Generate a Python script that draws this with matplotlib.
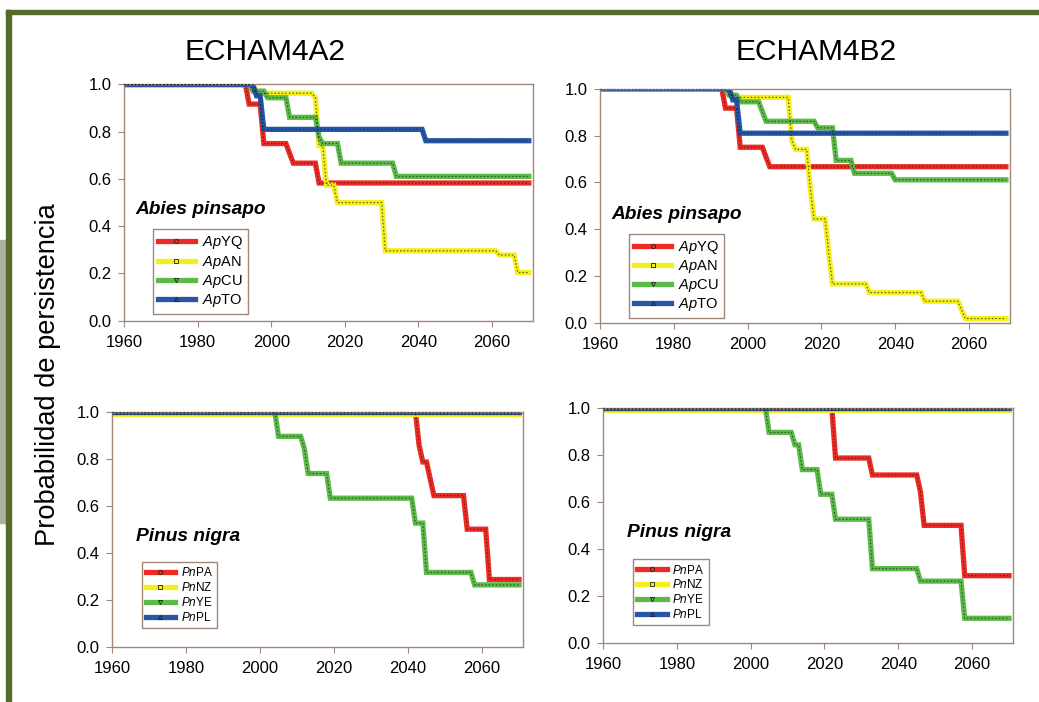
import matplotlib
matplotlib.use("Agg")
import matplotlib.pyplot as plt
from matplotlib.lines import Line2D
from matplotlib.patches import Rectangle

plt.rcParams['font.family'] = ['Liberation Sans', 'DejaVu Sans']
plt.rcParams['mathtext.fontset'] = 'custom'
plt.rcParams['mathtext.rm'] = 'Liberation Sans'
plt.rcParams['mathtext.it'] = 'Liberation Sans:italic'

# persistence curves, (year, probability) vertices of each step curve
# ECHAM4A2 - Abies pinsapo
a2_apyq = [(1960, 1.0), (1993, 1.0), (1994, 0.917), (1997, 0.917), (1998, 0.75), (2004, 0.75),
           (2005, 0.708), (2006, 0.667), (2012, 0.667), (2013, 0.583), (2070, 0.583)]
a2_apan = [(1960, 1.0), (1995, 1.0), (1996, 0.963), (2011, 0.963), (2012, 0.944), (2013, 0.741),
           (2014, 0.741), (2015, 0.574), (2017, 0.574), (2018, 0.5), (2030, 0.5), (2031, 0.296),
           (2061, 0.296), (2062, 0.278), (2066, 0.278), (2067, 0.204), (2070, 0.204)]
a2_apcu = [(1960, 1.0), (1994, 1.0), (1995, 0.972), (1998, 0.972), (1999, 0.944), (2004, 0.944),
           (2005, 0.861), (2012, 0.861), (2013, 0.778), (2014, 0.75), (2018, 0.75), (2019, 0.667),
           (2033, 0.667), (2034, 0.611), (2070, 0.611)]
a2_apto = [(1960, 1.0), (1995, 1.0), (1996, 0.952), (1997, 0.952), (1998, 0.81), (2041, 0.81),
           (2042, 0.762), (2070, 0.762)]

# ECHAM4B2 - Abies pinsapo
b2_apyq = [(1960, 1.0), (1993, 1.0), (1994, 0.917), (1997, 0.917), (1998, 0.75), (2004, 0.75),
           (2005, 0.708), (2006, 0.667), (2070, 0.667)]
b2_apan = [(1960, 1.0), (1995, 1.0), (1996, 0.963), (2011, 0.963), (2012, 0.778), (2013, 0.741),
           (2016, 0.741), (2017, 0.574), (2018, 0.444), (2021, 0.444), (2022, 0.296), (2023, 0.167),
           (2032, 0.167), (2033, 0.13), (2047, 0.13), (2048, 0.093), (2057, 0.093), (2058, 0.056),
           (2059, 0.019), (2070, 0.019)]
b2_apcu = [(1960, 1.0), (1994, 1.0), (1995, 0.972), (1997, 0.972), (1998, 0.944), (2003, 0.944),
           (2005, 0.861), (2018, 0.861), (2019, 0.833), (2023, 0.833), (2024, 0.694), (2028, 0.694),
           (2029, 0.639), (2039, 0.639), (2040, 0.611), (2070, 0.611)]
b2_apto = [(1960, 1.0), (1995, 1.0), (1996, 0.952), (1997, 0.952), (1998, 0.81), (2070, 0.81)]

# ECHAM4A2 - Pinus nigra
a2_pnpa = [(1960, 1.0), (2042, 1.0), (2043, 0.857), (2044, 0.786), (2045, 0.786), (2046, 0.714),
           (2047, 0.643), (2055, 0.643), (2056, 0.5), (2061, 0.5), (2062, 0.286), (2070, 0.286)]
a2_pnnz = [(1960, 0.99), (2070, 0.99)]
a2_pnye = [(1960, 1.0), (2004, 1.0), (2005, 0.895), (2011, 0.895), (2012, 0.842), (2013, 0.737),
           (2018, 0.737), (2019, 0.632), (2041, 0.632), (2042, 0.526), (2044, 0.526), (2045, 0.316),
           (2057, 0.316), (2058, 0.263), (2070, 0.263)]
a2_pnpl = [(1960, 1.0), (2070, 1.0)]

# ECHAM4B2 - Pinus nigra
b2_pnpa = [(1960, 1.0), (2022, 1.0), (2023, 0.786), (2032, 0.786), (2033, 0.714), (2045, 0.714),
           (2046, 0.643), (2047, 0.5), (2057, 0.5), (2058, 0.286), (2070, 0.286)]
b2_pnnz = [(1960, 0.99), (2070, 0.99)]
b2_pnye = [(1960, 1.0), (2004, 1.0), (2005, 0.895), (2011, 0.895), (2012, 0.842), (2013, 0.842),
           (2014, 0.737), (2018, 0.737), (2019, 0.632), (2022, 0.632), (2023, 0.526), (2032, 0.526),
           (2033, 0.316), (2045, 0.316), (2046, 0.263), (2057, 0.263), (2058, 0.105), (2070, 0.105)]
b2_pnpl = [(1960, 1.0), (2070, 1.0)]

ap_labels = [r'$\mathit{Ap}$YQ', r'$\mathit{Ap}$AN', r'$\mathit{Ap}$CU', r'$\mathit{Ap}$TO']
pn_labels = [r'$\mathit{Pn}$PA', r'$\mathit{Pn}$NZ', r'$\mathit{Pn}$YE', r'$\mathit{Pn}$PL']
colors = ['#ee2a24', '#f4ee1c', '#5cbb48', '#2656a8']
markers = ['o', 's', 'v', '^']
x_ticks = [1960, 1980, 2000, 2020, 2040, 2060]
y_ticks = [0.0, 0.2, 0.4, 0.6, 0.8, 1.0]

frame_col = '#a08778'
W, H = 1039, 702

fig = plt.figure(figsize=(W / 100, H / 100), dpi=100)
fig.patch.set_facecolor('white')

# slide decoration: dark green frame and grey-green tab on the left
fig.patches.append(Rectangle((0, (H - 523) / H), 6 / W, 283 / H, transform=fig.transFigure,
                             color='#a9b59a', zorder=0))
fig.patches.append(Rectangle((6 / W, 0), 5 / W, (H - 10) / H, transform=fig.transFigure,
                             color='#556a2c', zorder=0))
fig.patches.append(Rectangle((6 / W, (H - 14) / H), 1 - 6 / W, 4 / H, transform=fig.transFigure,
                             color='#556a2c', zorder=0))


def add_panel(box, series, labels, species, sp_xy, leg_xy, leg_size):
    left, top, right, bottom = box
    ax = fig.add_axes([left / W, 1 - bottom / H, (right - left) / W, (bottom - top) / H])
    for pts, c in zip(series, colors):
        xs = [p[0] for p in pts]
        ys = [p[1] for p in pts]
        ax.plot(xs, ys, color=c, lw=3.8, solid_joinstyle='miter', zorder=2)
        ax.plot(xs, ys, color='#202020', lw=0.8, alpha=0.75, linestyle=(0, (1.3, 1.9)), zorder=3)
    ax.set_xlim(1960, 2071)
    ax.set_ylim(0, 1.0)
    ax.set_xticks(x_ticks)
    ax.set_yticks(y_ticks)
    ax.set_yticklabels(['%.1f' % v for v in y_ticks])
    ax.tick_params(direction='out', length=4, width=0.8, color=frame_col, labelsize=12, pad=5)
    ax.tick_params(axis='x', pad=6)
    for s in ax.spines.values():
        s.set_color(frame_col)
        s.set_linewidth(1.0)
    ax.text(sp_xy[0], sp_xy[1], species, fontsize=13.8, fontweight='bold', fontstyle='italic',
            va='center', ha='left')
    handles = [Line2D([], [], color=c, lw=3.8, marker=m, ms=3, mfc=c, mec='#202020', mew=0.6)
               for c, m in zip(colors, markers)]
    leg = ax.legend(handles, labels, loc='lower left', bbox_to_anchor=leg_xy, borderaxespad=0,
                    fontsize=leg_size, handlelength=2.5, handletextpad=0.5, labelspacing=0.15,
                    borderpad=0.35, fancybox=False, framealpha=1, edgecolor=frame_col, numpoints=1)
    leg.get_frame().set_linewidth(1.0)
    return ax


add_panel((124, 84.5, 532.5, 320.7), [a2_apyq, a2_apan, a2_apcu, a2_apto], ap_labels,
          'Abies pinsapo', (1963, 0.47), (0.071, 0.028), 10.5)
add_panel((600, 88.7, 1009.6, 323), [b2_apyq, b2_apan, b2_apcu, b2_apto], ap_labels,
          'Abies pinsapo', (1963, 0.465), (0.0716, 0.02), 10.5)
add_panel((112, 411.7, 522.7, 646.7), [a2_pnpa, a2_pnnz, a2_pnye, a2_pnpl], pn_labels,
          'Pinus nigra', (1966.5, 0.468), (0.072, 0.08), 8.5)
add_panel((603, 407.7, 1012.7, 643), [b2_pnpa, b2_pnnz, b2_pnye, b2_pnpl], pn_labels,
          'Pinus nigra', (1966.5, 0.47), (0.073, 0.0765), 8.5)

fig.text(265 / W, 1 - 52 / H, 'ECHAM4A2', fontsize=21.5, ha='center', va='center')
fig.text(816 / W, 1 - 52 / H, 'ECHAM4B2', fontsize=21.5, ha='center', va='center')
fig.text(48 / W, 1 - 375 / H, 'Probabilidad de persistencia', fontsize=19.6, rotation=90,
         ha='center', va='center')

fig.savefig('out.png', dpi=100)
